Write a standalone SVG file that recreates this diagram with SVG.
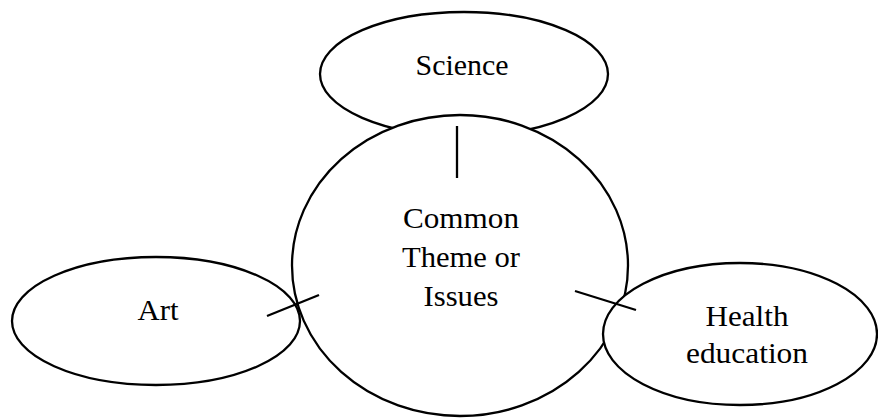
<svg xmlns="http://www.w3.org/2000/svg" width="878" height="418" viewBox="0 0 878 418">
<style>
.shape{stroke:#000;stroke-width:2.3;fill:#fff}
.open{stroke:#000;stroke-width:2.3;fill:none}
.lbl{font-family:"Liberation Serif","Times New Roman",serif;font-size:29px;fill:#000;text-anchor:middle}
.conn line{stroke:#000;stroke-width:2.3}
</style>
<rect width="878" height="418" fill="#fff"/>
<g id="science">
<ellipse class="shape" cx="464" cy="74" rx="144" ry="62"/>
<text class="lbl" x="462" y="75" textLength="93" lengthAdjust="spacingAndGlyphs">Science</text>
</g>
<g id="center">
<ellipse class="shape" cx="460" cy="265.5" rx="168" ry="150.5"/>
<text class="lbl" x="461" y="228" textLength="116" lengthAdjust="spacingAndGlyphs">Common</text>
<text class="lbl" x="461" y="267" textLength="118" lengthAdjust="spacingAndGlyphs">Theme or</text>
<text class="lbl" x="461" y="306" textLength="75" lengthAdjust="spacingAndGlyphs">Issues</text>
</g>
<g id="art">
<ellipse class="open" cx="156" cy="321" rx="144" ry="64"/>
<text class="lbl" x="158" y="320" textLength="41" lengthAdjust="spacingAndGlyphs">Art</text>
</g>
<g id="health">
<ellipse class="shape" cx="740" cy="334" rx="137" ry="71"/>
<text class="lbl" x="747" y="326" textLength="83" lengthAdjust="spacingAndGlyphs">Health</text>
<text class="lbl" x="747" y="363" textLength="122" lengthAdjust="spacingAndGlyphs">education</text>
</g>
<g class="conn">
<line x1="457" y1="126" x2="457" y2="178"/>
<line x1="267" y1="316" x2="319" y2="295"/>
<line x1="575" y1="291" x2="636" y2="310"/>
</g>
</svg>
